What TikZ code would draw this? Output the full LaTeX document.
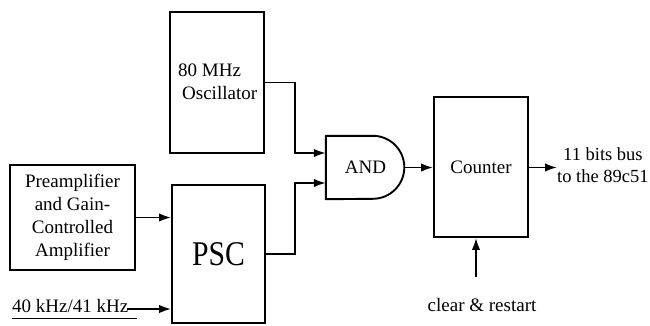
\documentclass[tikz,border=0pt]{standalone}
\usepackage{fontspec}
\setmainfont{Liberation Serif}
\usetikzlibrary{arrows.meta}
\begin{document}
\begin{tikzpicture}[x=1pt,y=-1pt,
  box/.style={draw,line width=1.9pt,inner sep=0pt},
  lbl/.style={inner sep=0pt,font=\fontsize{19}{23}\selectfont},
  wire/.style={line width=1.9pt},
  arr/.style={wire,-{Latex[length=12pt,width=8.5pt]}}]
\useasboundingbox (0,0) rectangle (650,326);
% blocks
\node[box,minimum width=94pt,minimum height=141pt] (osc) at (217,82.5) {};
\node[lbl,anchor=base west] (osct1) at (178,77) {80 MHz};
\node[lbl,anchor=base west] (osct2) at (182,100) {Oscillator};
\node[box,minimum width=125pt,minimum height=105pt,align=center,
      font=\fontsize{19}{23}\selectfont] (pre) at (72.5,217.5)
      {Preamplifier\\and Gain-\\Controlled\\Amplifier};
\node[box,minimum width=93pt,minimum height=138pt,
      font=\fontsize{33}{36}\selectfont] (psc) at (218.5,254) {\scalebox{0.9}[1.05]{PSC}};
\node[lbl,minimum width=79pt,minimum height=63pt] (and) at (365.5,167.5) {AND};
\draw[wire,line join=round] (and.north west) -- ++(47,0)
  arc[start angle=90,end angle=-90,radius=31.5pt] -- (and.south west) -- cycle;
\node[box,minimum width=94pt,minimum height=140pt,
      font=\fontsize{19}{23}\selectfont] (cnt) at (481,167) {Counter};
% labels
\node[lbl,align=center,anchor=west,font=\fontsize{18.5}{22}\selectfont] (bus) at (557,165) {11 bits bus\\to the 89c51};
\node[lbl,anchor=base] (clr) at (482,311) {clear \& restart};
\node[lbl,anchor=base west] (freq) at (12,312) {40 kHz/41 kHz};
% coordinates
\coordinate (in1) at ([yshift=14.5pt]and.west);
\coordinate (in2) at ([yshift=-15.5pt]and.west);
\coordinate (fstart) at (127,309);
\coordinate (ul1) at (12,318);
\coordinate (ul2) at (137,318);
\coordinate (clrstart) at (476,277);
% connectors
\draw[arr] (pre.east) -- (psc.west |- pre.east);
\draw[arr] (fstart) -- (psc.west |- fstart);
\draw[line width=0.8pt] (ul1) -- (ul2);
\draw[arr] (osc.east) -| (295,153) -- (in1);
\draw[arr] (psc.east) -| (295,183) -- (in2);
\draw[arr] (and.east) -- (cnt.west |- and.east);
\draw[arr] (cnt.east |- 0,167.5) -- (bus.west |- 0,167.5);
\draw[arr] (clrstart) -- (clrstart |- cnt.south);
\end{tikzpicture}
\end{document}
